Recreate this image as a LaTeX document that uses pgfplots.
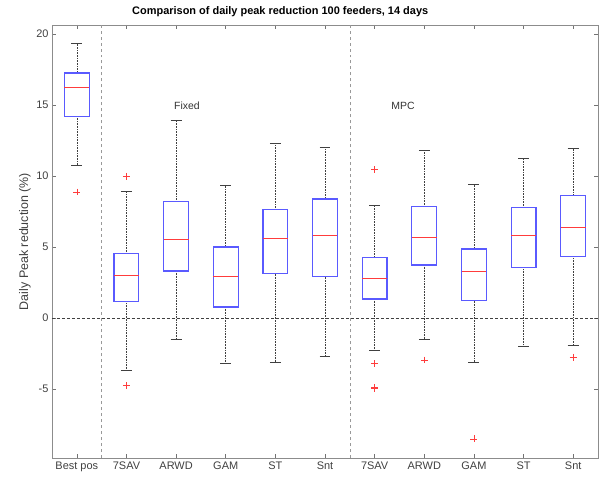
\documentclass[border=0pt]{standalone}
\usepackage{fontspec}
\setmainfont{Liberation Sans}
\usepackage{pgfplots}
\pgfplotsset{compat=1.18}
\usepgfplotslibrary{statistics}

\definecolor{boxblue}{RGB}{90,90,255}
\definecolor{medred}{RGB}{255,60,60}

% MATLAB-like box: blue box, red median, dotted whisker with solid cap
\pgfplotsset{
  mbox/.style={
    solid, draw=boxblue,
    boxplot/draw direction=y,
    boxplot/box extend=0.5,
    boxplot/whisker extend=0.22,
    boxplot/every box/.style={draw=boxblue, line width=1.2pt},
    boxplot/every median/.style={draw=medred, line width=0.8pt},
    boxplot/draw/lower whisker/.code={
      \draw[black!75, densely dotted, line width=0.6pt]
        (boxplot cs:\pgfplotsboxplotvalue{lower quartile}) --
        (boxplot cs:\pgfplotsboxplotvalue{lower whisker});
      \draw[black!75, solid, line width=0.6pt]
        (boxplot whisker cs:\pgfplotsboxplotvalue{lower whisker},0) --
        (boxplot whisker cs:\pgfplotsboxplotvalue{lower whisker},1);
    },
    boxplot/draw/upper whisker/.code={
      \draw[black!75, densely dotted, line width=0.6pt]
        (boxplot cs:\pgfplotsboxplotvalue{upper quartile}) --
        (boxplot cs:\pgfplotsboxplotvalue{upper whisker});
      \draw[black!75, solid, line width=0.6pt]
        (boxplot whisker cs:\pgfplotsboxplotvalue{upper whisker},0) --
        (boxplot whisker cs:\pgfplotsboxplotvalue{upper whisker},1);
    },
  },
  outl/.style={only marks, mark=+, medred, mark size=3.5pt, mark options={line width=0.6pt}},
}

\begin{document}
\begin{tikzpicture}
\begin{axis}[
  at={(0,0)}, anchor=south west,
  width=546bp, height=433bp, scale only axis,
  xmin=0.5, xmax=11.5,
  ymin=-9.86, ymax=20.63,
  xtick={1,...,11},
  xticklabels={Best pos,7SAV,ARWD,GAM,ST,Snt,7SAV,ARWD,GAM,ST,Snt},
  ytick={-5,0,5,10,15,20},
  /pgf/number format/assume math mode=true,
  tick align=inside,
  major tick length=4bp,
  axis line style={black!45, line width=0.6pt},
  every tick/.style={black!55, line width=0.5pt},
  ticklabel style={font=\fontsize{11}{13}\selectfont, text=black!75},
  ylabel={Daily Peak reduction (\%)},
  every axis y label/.style={at={(axis description cs:0,0.5)}, xshift=-27bp,
    rotate=90, anchor=center, font=\fontsize{12.5}{14}\selectfont, text=black!75},
  title={Comparison of daily peak reduction 100 feeders, 14 days},
  title style={at={(axis description cs:0.418,1)}, anchor=base, yshift=5bp,
    font=\bfseries\fontsize{11}{13}\selectfont},
  clip=false,
]
% separators and zero line
\addplot[black!40, dashed, line width=0.5pt] coordinates {(1.5,-9.86) (1.5,20.63)};
\addplot[black!40, dashed, line width=0.5pt] coordinates {(6.5,-9.86) (6.5,20.63)};
\addplot[black!75, densely dashed, line width=0.5pt] coordinates {(0.5,0) (11.5,0)};

% Best pos
\addplot[mbox, boxplot prepared={draw position=1, lower whisker=10.75, lower quartile=14.2, median=16.24, upper quartile=17.25, upper whisker=19.34}] coordinates {};
% Fixed
\addplot[mbox, boxplot prepared={draw position=2, lower whisker=-3.71, lower quartile=1.17, median=2.98, upper quartile=4.53, upper whisker=8.92}] coordinates {};
\addplot[mbox, boxplot prepared={draw position=3, lower whisker=-1.48, lower quartile=3.31, median=5.56, upper quartile=8.21, upper whisker=13.89}] coordinates {};
\addplot[mbox, boxplot prepared={draw position=4, lower whisker=-3.17, lower quartile=0.77, median=2.91, upper quartile=5.0, upper whisker=9.34}] coordinates {};
\addplot[mbox, boxplot prepared={draw position=5, lower whisker=-3.13, lower quartile=3.12, median=5.58, upper quartile=7.65, upper whisker=12.32}] coordinates {};
\addplot[mbox, boxplot prepared={draw position=6, lower whisker=-2.68, lower quartile=2.91, median=5.82, upper quartile=8.38, upper whisker=12.04}] coordinates {};
% MPC
\addplot[mbox, boxplot prepared={draw position=7, lower whisker=-2.30, lower quartile=1.34, median=2.82, upper quartile=4.23, upper whisker=7.96}] coordinates {};
\addplot[mbox, boxplot prepared={draw position=8, lower whisker=-1.48, lower quartile=3.73, median=5.70, upper quartile=7.84, upper whisker=11.83}] coordinates {};
\addplot[mbox, boxplot prepared={draw position=9, lower whisker=-3.10, lower quartile=1.22, median=3.31, upper quartile=4.86, upper whisker=9.41}] coordinates {};
\addplot[mbox, boxplot prepared={draw position=10, lower whisker=-2.02, lower quartile=3.56, median=5.82, upper quartile=7.77, upper whisker=11.27}] coordinates {};
\addplot[mbox, boxplot prepared={draw position=11, lower whisker=-1.90, lower quartile=4.34, median=6.36, upper quartile=8.61, upper whisker=11.97}] coordinates {};

% outliers
\addplot[outl] coordinates {
  (1,8.87)
  (2,9.97) (2,-4.77)
  (7,10.44) (7,-3.22) (7,-4.91) (7,-4.96)
  (8,-2.96)
  (9,-8.52)
  (11,-2.75)
};

\node[font=\fontsize{10.5}{12}\selectfont, text=black!80] at (axis cs:3.22,14.95) {Fixed};
\node[font=\fontsize{10.5}{12}\selectfont, text=black!80] at (axis cs:7.57,14.95) {MPC};
\end{axis}
\pgfresetboundingbox
\path[use as bounding box] (-52bp,-23bp) rectangle (552bp,458bp);
\end{tikzpicture}
\end{document}
